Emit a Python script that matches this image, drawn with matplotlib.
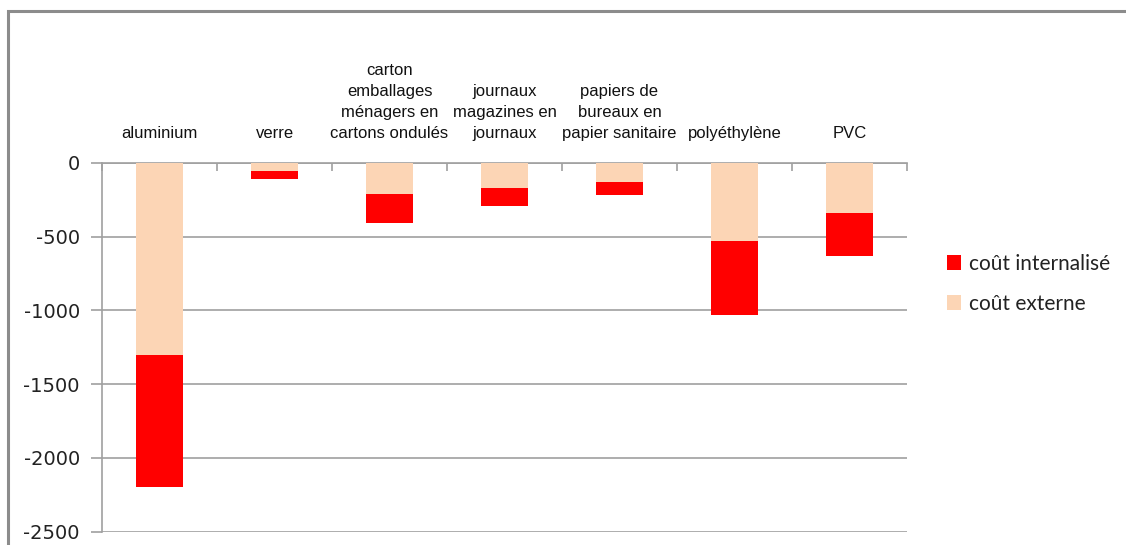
import matplotlib
matplotlib.use("Agg")
import matplotlib.pyplot as plt
from matplotlib.patches import Rectangle, Patch
import numpy as np

categories = ["aluminium", "verre", "carton\nemballages\nménagers en\ncartons ondulés",
              "journaux\nmagazines en\njournaux", "papiers de\nbureaux en\npapier sanitaire",
              "polyéthylène", "PVC"]
cout_externe = [-1300, -57, -208, -172, -127, -528, -340]
cout_internalise = [-900, -54, -197, -120, -90, -500, -294]
yticks = [0, -500, -1000, -1500, -2000, -2500]

col_ext = "#FCD5B5"
col_int = "#FF0000"
grid_col = "#A0A0A0"

fig = plt.figure(figsize=(11.26, 5.45), dpi=100)
fig.patch.set_facecolor("white")

# outer frame
fig.patches.append(Rectangle((8 / 1126, -0.1), 1.2, 1 - 11 / 545 + 0.1,
                             transform=fig.transFigure, fill=False,
                             edgecolor="#8C8C8C", linewidth=2.2))

ax = fig.add_axes([102 / 1126, 1 - 531.5 / 545, (907 - 102) / 1126, (531.5 - 163) / 545])
x = np.arange(len(categories))
w = 0.41
ax.bar(x, cout_externe, w, color=col_ext, zorder=3)
ax.bar(x, cout_internalise, w, bottom=cout_externe, color=col_int, zorder=3)

ax.set_xlim(-0.5, len(categories) - 0.5)
ax.set_ylim(-2500, 0)
ax.set_yticks(yticks)
ax.set_yticklabels([str(v) for v in yticks], fontsize=14, family="DejaVu Sans", color="#222222")
ax.yaxis.grid(True, color=grid_col, linewidth=1.2, zorder=0)
ax.set_axisbelow(True)

for s in ["right", "bottom"]:
    ax.spines[s].set_visible(False)
for s in ["left", "top"]:
    ax.spines[s].set_color(grid_col)
    ax.spines[s].set_linewidth(1.2)
ax.tick_params(axis="y", length=8, width=1.2, color=grid_col, pad=8)

ax.xaxis.tick_top()
ax.set_xticks(x)
ax.set_xticklabels(categories, fontsize=12, family="Liberation Sans", linespacing=1.5,
                   color="#111111")
ax.set_xticks(np.arange(len(categories) + 1) - 0.5, minor=True)
ax.tick_params(axis="x", which="major", length=0, pad=16)
ax.tick_params(axis="x", which="minor", length=6, width=1.2, color=grid_col, direction="in")

handles = [Patch(facecolor=col_int, edgecolor="none", label="coût internalisé"),
           Patch(facecolor=col_ext, edgecolor="none", label="coût externe")]
fig.legend(handles=handles, loc="upper left", bbox_to_anchor=(928 / 1126, 1 - 235 / 545),
           frameon=False, prop={"family": "Lato", "size": 15},
           handlelength=0.7, handleheight=0.7, handletextpad=0.35, labelspacing=0.95,
           labelcolor="#222222")

fig.savefig("out.png", dpi=100, facecolor="white")
